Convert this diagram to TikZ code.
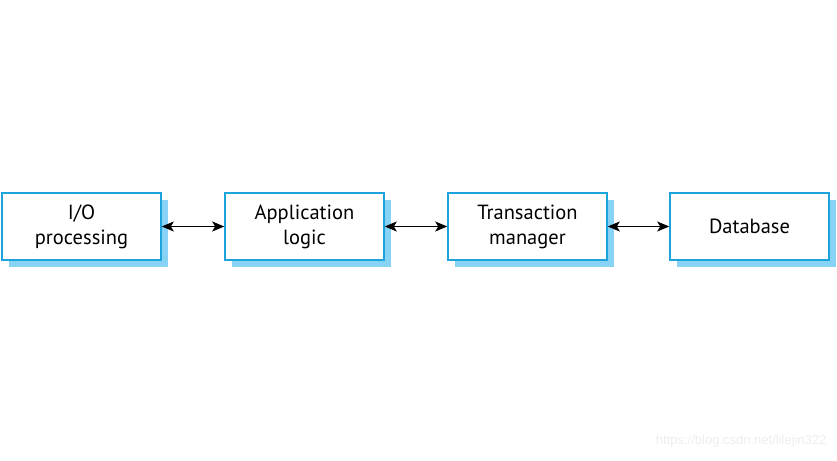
\documentclass[tikz,border=0pt]{standalone}
\usepackage{fontspec}
\setmainfont{PT Sans}
\newfontfamily\wmfont{Liberation Sans}
\usetikzlibrary{arrows.meta}
\definecolor{boxline}{HTML}{1CA3DC}
\definecolor{shadowblue}{HTML}{86D3F5}
\begin{document}
\begin{tikzpicture}[x=1pt,y=-1pt,
  blk/.style={draw=boxline, line width=1.6pt, fill=white, minimum width=159pt, minimum height=67pt,
    align=center, font=\fontsize{20.5}{25}\selectfont, inner sep=0pt},
  conn/.style={{Stealth[length=12pt,width=10pt,inset=3pt]}-{Stealth[length=12pt,width=10pt,inset=3pt]}, line width=0.8pt}]
\useasboundingbox (0,0) rectangle (837,460);
\foreach \x in {2,225,448,670}{
  \fill[shadowblue] (\x+7,200) rectangle (\x+166,267);
}
\node[blk] (io) at (81.5,226.5) {I/O\\processing};
\node[blk] (app) at (304.5,226.5) {Application\\logic};
\node[blk] (tm) at (527.5,226.5) {Transaction\\manager};
\node[blk] (db) at (749.5,226.5) {Database};
\draw[conn] (io) -- (app);
\draw[conn] (app) -- (tm);
\draw[conn] (tm) -- (db);
\node[text=black!7, font=\fontsize{13}{15}\selectfont\wmfont, anchor=east] (wm) at (830,441) {https://blog.csdn.net/lilejin322};
\end{tikzpicture}
\end{document}
